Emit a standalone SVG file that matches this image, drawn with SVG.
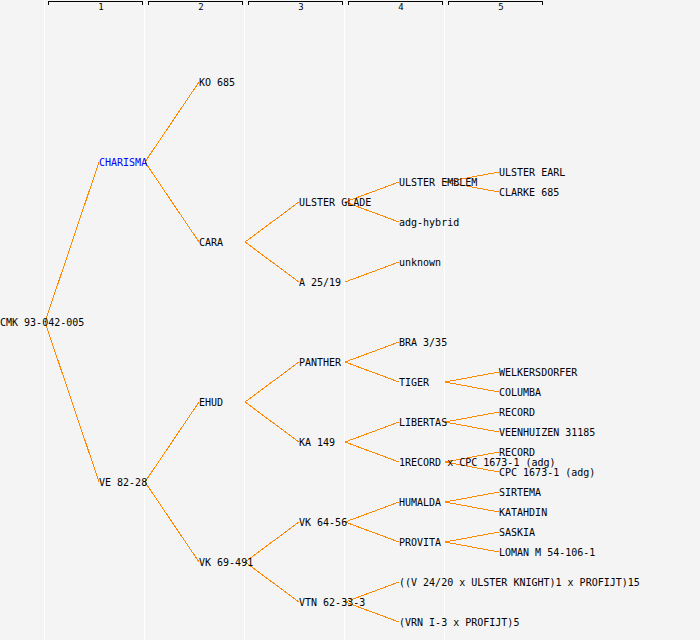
<svg xmlns="http://www.w3.org/2000/svg" width="700" height="640" viewBox="0 0 700 640">
<style>
.bg{fill:#f4f4f4}
.col{stroke:#ffffff;stroke-width:1}
.br{fill:none;stroke:#000;stroke-width:1;shape-rendering:crispEdges}
.hd{font-family:"DejaVu Sans Mono","Liberation Mono",monospace;font-size:9px;fill:#000;text-anchor:middle}
.t{font-family:"DejaVu Sans Mono","Liberation Mono",monospace;font-size:10px;fill:#000}
.b{fill:#0000ff}
#links line{stroke:#ff8800;stroke-width:1;shape-rendering:crispEdges}
</style>
<rect class="bg" x="0" y="0" width="700" height="640"/>
<g id="columns">
<line class="col" x1="44.5" y1="0" x2="44.5" y2="640"/>
<line class="col" x1="144.5" y1="0" x2="144.5" y2="640"/>
<line class="col" x1="244.5" y1="0" x2="244.5" y2="640"/>
<line class="col" x1="344.5" y1="0" x2="344.5" y2="640"/>
<line class="col" x1="444.5" y1="0" x2="444.5" y2="640"/>
</g>
<g id="header">
<path class="br" d="M48.5,5V1.5H142.5V5"/><text class="hd" x="101" y="10">1</text>
<path class="br" d="M148.5,5V1.5H242.5V5"/><text class="hd" x="201" y="10">2</text>
<path class="br" d="M248.5,5V1.5H342.5V5"/><text class="hd" x="301" y="10">3</text>
<path class="br" d="M348.5,5V1.5H442.5V5"/><text class="hd" x="401" y="10">4</text>
<path class="br" d="M448.5,5V1.5H542.5V5"/><text class="hd" x="501" y="10">5</text>
</g>
<g id="links">
<line x1="45" y1="322" x2="99" y2="162"/>
<line x1="45" y1="322" x2="99" y2="482"/>
<line x1="145" y1="162" x2="199" y2="82"/>
<line x1="145" y1="162" x2="199" y2="242"/>
<line x1="145" y1="482" x2="199" y2="402"/>
<line x1="145" y1="482" x2="199" y2="562"/>
<line x1="245" y1="242" x2="299" y2="202"/>
<line x1="245" y1="242" x2="299" y2="282"/>
<line x1="245" y1="402" x2="299" y2="362"/>
<line x1="245" y1="402" x2="299" y2="442"/>
<line x1="245" y1="562" x2="299" y2="522"/>
<line x1="245" y1="562" x2="299" y2="602"/>
<line x1="345" y1="202" x2="399" y2="182"/>
<line x1="345" y1="202" x2="399" y2="222"/>
<line x1="345" y1="282" x2="399" y2="262"/>
<line x1="345" y1="362" x2="399" y2="342"/>
<line x1="345" y1="362" x2="399" y2="382"/>
<line x1="345" y1="442" x2="399" y2="422"/>
<line x1="345" y1="442" x2="399" y2="462"/>
<line x1="345" y1="522" x2="399" y2="502"/>
<line x1="345" y1="522" x2="399" y2="542"/>
<line x1="345" y1="602" x2="399" y2="582"/>
<line x1="345" y1="602" x2="399" y2="622"/>
<line x1="445" y1="182" x2="499" y2="172"/>
<line x1="445" y1="182" x2="499" y2="192"/>
<line x1="445" y1="382" x2="499" y2="372"/>
<line x1="445" y1="382" x2="499" y2="392"/>
<line x1="445" y1="422" x2="499" y2="412"/>
<line x1="445" y1="422" x2="499" y2="432"/>
<line x1="445" y1="462" x2="499" y2="452"/>
<line x1="445" y1="462" x2="499" y2="472"/>
<line x1="445" y1="502" x2="499" y2="492"/>
<line x1="445" y1="502" x2="499" y2="512"/>
<line x1="445" y1="542" x2="499" y2="532"/>
<line x1="445" y1="542" x2="499" y2="552"/>
</g>
<g id="n-root"><text class="t" x="0" y="326">CMK 93-042-005</text></g>
<g id="n-charisma"><text class="t b" x="99" y="166">CHARISMA</text></g>
<g id="n-ve8228"><text class="t" x="99" y="486">VE 82-28</text></g>
<g id="n-ko685"><text class="t" x="199" y="86">KO 685</text></g>
<g id="n-cara"><text class="t" x="199" y="246">CARA</text></g>
<g id="n-ehud"><text class="t" x="199" y="406">EHUD</text></g>
<g id="n-vk69491"><text class="t" x="199" y="566">VK 69-491</text></g>
<g id="n-ulsterglade"><text class="t" x="299" y="206">ULSTER GLADE</text></g>
<g id="n-a2519"><text class="t" x="299" y="286">A 25/19</text></g>
<g id="n-panther"><text class="t" x="299" y="366">PANTHER</text></g>
<g id="n-ka149"><text class="t" x="299" y="446">KA 149</text></g>
<g id="n-vk6456"><text class="t" x="299" y="526">VK 64-56</text></g>
<g id="n-vtn"><text class="t" x="299" y="606">VTN 62-33-3</text></g>
<g id="n-ulsteremblem"><text class="t" x="399" y="186">ULSTER EMBLEM</text></g>
<g id="n-adg"><text class="t" x="399" y="226">adg-hybrid</text></g>
<g id="n-unknown"><text class="t" x="399" y="266">unknown</text></g>
<g id="n-bra"><text class="t" x="399" y="346">BRA 3/35</text></g>
<g id="n-tiger"><text class="t" x="399" y="386">TIGER</text></g>
<g id="n-libertas"><text class="t" x="399" y="426">LIBERTAS</text></g>
<g id="n-1record"><text class="t" x="399" y="466">1RECORD x CPC 1673-1 (adg)</text></g>
<g id="n-humalda"><text class="t" x="399" y="506">HUMALDA</text></g>
<g id="n-provita"><text class="t" x="399" y="546">PROVITA</text></g>
<g id="n-v2420"><text class="t" x="399" y="586">((V 24/20 x ULSTER KNIGHT)1 x PROFIJT)15</text></g>
<g id="n-vrn"><text class="t" x="399" y="626">(VRN I-3 x PROFIJT)5</text></g>
<g id="n-ulsterearl"><text class="t" x="499" y="176">ULSTER EARL</text></g>
<g id="n-clarke"><text class="t" x="499" y="196">CLARKE 685</text></g>
<g id="n-welkers"><text class="t" x="499" y="376">WELKERSDORFER</text></g>
<g id="n-columba"><text class="t" x="499" y="396">COLUMBA</text></g>
<g id="n-record1"><text class="t" x="499" y="416">RECORD</text></g>
<g id="n-veen"><text class="t" x="499" y="436">VEENHUIZEN 31185</text></g>
<g id="n-record2"><text class="t" x="499" y="456">RECORD</text></g>
<g id="n-cpc"><text class="t" x="499" y="476">CPC 1673-1 (adg)</text></g>
<g id="n-sirtema"><text class="t" x="499" y="496">SIRTEMA</text></g>
<g id="n-katahdin"><text class="t" x="499" y="516">KATAHDIN</text></g>
<g id="n-saskia"><text class="t" x="499" y="536">SASKIA</text></g>
<g id="n-loman"><text class="t" x="499" y="556">LOMAN M 54-106-1</text></g>
</svg>
